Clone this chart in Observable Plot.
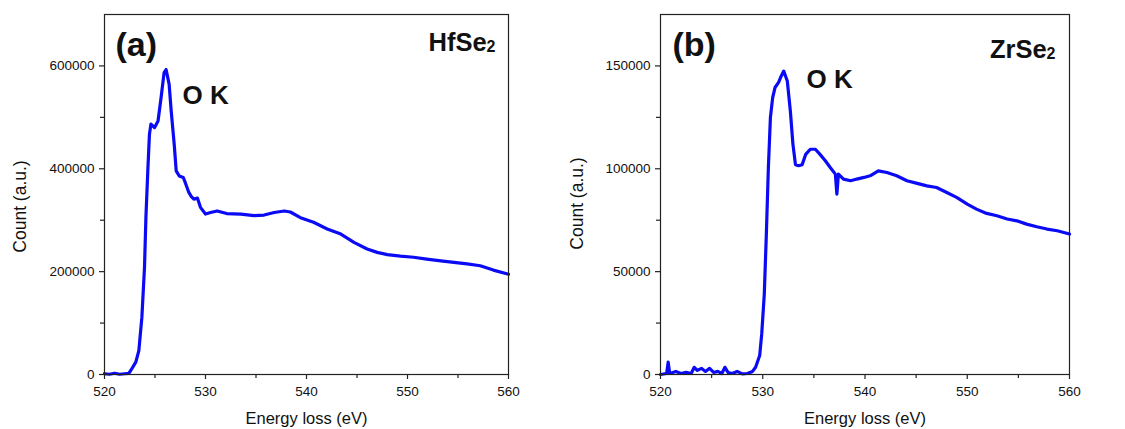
<!DOCTYPE html>
<html>
<head>
<meta charset="utf-8">
<script src="https://cdn.jsdelivr.net/npm/d3@7"></script>
<script src="https://cdn.jsdelivr.net/npm/@observablehq/plot@0.6"></script>
<style>
  html, body { margin: 0; padding: 0; background: white; }
  #wrap { display: flex; width: 1125px; height: 429px; }
</style>
</head>
<body>
<div id="wrap"></div>
<script>
// ---- Panel (a): HfSe2 ----
const energyA = [520, 520.5, 521, 521.5, 522, 522.4, 522.6, 523.1, 523.4, 523.7, 523.96, 524.1, 524.3, 524.45, 524.6, 524.95, 525.3, 525.6, 525.9, 526.1, 526.4, 526.6, 526.9, 527.1, 527.4, 527.8, 528.0, 528.35, 528.6, 528.85, 529.2, 529.5, 530.0, 530.5, 531.15, 532.1, 533.5, 534.8, 535.8, 536.8, 537.8, 538.4, 539.4, 540.7, 542.05, 543.4, 544.7, 546.0, 547.0, 548.0, 549.3, 550.6, 551.9, 553.3, 554.6, 555.9, 557.2, 558.5, 560];
const countA = [1500, 500, 2500, 500, 1500, 2000, 7800, 24000, 46600, 111000, 208000, 305000, 402000, 467000, 487000, 480000, 493000, 538000, 587000, 593000, 564000, 513000, 448000, 396000, 386000, 383000, 373000, 354000, 346000, 341000, 343000, 325000, 312000, 315000, 318000, 313000, 312000, 309000, 310000, 315000, 318000, 316000, 305000, 296000, 283000, 273000, 257000, 244000, 237500, 233000, 230000, 228000, 224500, 221000, 218000, 215000, 211500, 203000, 195000];
const yTicksA = [0, 200000, 400000, 600000];
const yMinorA = [100000, 300000, 500000];

// ---- Panel (b): ZrSe2 ----
const energyB = [520, 520.6, 520.75, 520.9, 521.5, 522, 522.5, 523, 523.3, 523.6, 524, 524.4, 524.8, 525.2, 525.6, 526, 526.3, 526.6, 527, 527.5, 528, 528.5, 529, 529.3, 529.7, 529.9, 530.15, 530.35, 530.55, 530.75, 530.97, 531.2, 531.55, 531.8, 532.05, 532.4, 532.7, 532.95, 533.2, 533.5, 533.85, 534.2, 534.65, 535.15, 535.6, 536.1, 536.6, 537.1, 537.25, 537.4, 537.9, 538.6, 539.2, 539.9, 540.5, 541.3, 542.15, 543.1, 544.1, 545.1, 546.05, 547.0, 548.0, 549.0, 550.0, 550.9, 551.9, 552.9, 553.9, 554.85, 555.8, 556.8, 557.8, 558.8, 560];
const countB = [0, 500, 6000, 500, 1500, 500, 1000, 500, 3500, 2000, 3000, 1500, 3000, 1000, 1500, 500, 3500, 1000, 500, 1500, 300, 500, 1500, 3500, 9200, 19700, 39000, 68000, 100600, 125000, 134600, 139500, 142000, 145000, 147500, 142700, 128000, 112000, 102000, 101500, 102000, 107000, 109500, 109500, 107000, 104000, 100600, 97400, 87700, 97400, 95000, 94200, 95000, 95800, 96600, 99000, 98200, 96600, 94200, 92900, 91700, 90900, 88500, 86000, 82800, 80400, 78300, 77200, 75600, 74700, 73100, 71800, 70700, 69900, 68300];
const yTicksB = [0, 50000, 100000, 150000];
const yMinorB = [25000, 75000, 125000];

const xTicks = [520, 530, 540, 550, 560];
const xMinor = [525, 535, 545, 555];

function panel(opt) {
  const data = opt.energy.map((e, i) => ({e, c: opt.count[i]}));
  const svg = Plot.plot({
    width: opt.width, height: 429,
    marginTop: 14, marginBottom: 55, marginLeft: opt.marginLeft, marginRight: opt.marginRight,
    style: {fontFamily: "'Liberation Sans', Arial, sans-serif", fontSize: "13.5px", color: "#111", background: "white", overflow: "visible"},
    x: {domain: [520, 560]},
    y: {domain: [0, opt.yMax]},
    marks: [
      Plot.line(data, {x: "e", y: "c", stroke: "#0a0af5", strokeWidth: 3.2, strokeLinejoin: "round", curve: "linear"}),
      Plot.frame({stroke: "#222", strokeWidth: 1.2}),
      Plot.axisX({ticks: xTicks, tickSize: 5, tickPadding: 7, tickFormat: "d", label: null, fontSize: 13.5, strokeWidth: 1.2, stroke: "#222"}),
      Plot.axisX({ticks: xMinor, tickSize: 4, tickFormat: () => "", label: null, strokeWidth: 1.2, stroke: "#222"}),
      Plot.axisY({ticks: opt.yTicks, tickSize: 5, tickPadding: 5, tickFormat: d => String(d), label: null, fontSize: 13.5, strokeWidth: 1.2, stroke: "#222"}),
      Plot.axisY({ticks: opt.yMinor, tickSize: 4, tickFormat: () => "", label: null, strokeWidth: 1.2, stroke: "#222"}),
      Plot.text(["Energy loss (eV)"], {frameAnchor: "bottom", dy: 44, textAnchor: "middle", lineAnchor: "middle", fontSize: 16.5, fill: "#111"}),
      Plot.text(["Count (a.u.)"], {frameAnchor: "left", dx: opt.yLabelDx, dy: opt.yLabelDy, textAnchor: "middle", lineAnchor: "middle", rotate: -90, fontSize: 17.5, fill: "#111"}),
      Plot.text([opt.tag], {frameAnchor: "top-left", dx: opt.tagDx, dy: 41, textAnchor: "start", lineAnchor: "bottom", fontSize: 34, fontWeight: "bold", fill: "#111"}),
      Plot.text([opt.compound], {frameAnchor: "top-right", dx: opt.compDx, dy: opt.compDy, textAnchor: "end", lineAnchor: "bottom", fontSize: 25.5, fontWeight: "bold", fill: "#111"}),
      Plot.text(["O K"], {frameAnchor: "top-left", dx: opt.okDx, dy: opt.okDy, textAnchor: "start", lineAnchor: "bottom", fontSize: 26, fontWeight: "bold", fill: "#111"})
    ]
  });
  d3.select(svg).selectAll("text").filter(function() { return this.textContent === opt.compound; })
    .append("tspan").attr("font-size", 16).attr("dy", 1).text("2");
  return svg;
}

const wrap = document.getElementById("wrap");
wrap.appendChild(panel({energy: energyA, count: countA, yMax: 700000, yTicks: yTicksA, yMinor: yMinorA,
  width: 560, marginLeft: 104, marginRight: 52, tag: "(a)", tagDx: 11, compound: "HfSe", compDx: -13, compDy: 36,
  okDx: 78, okDy: 89, yLabelDx: -84, yLabelDy: 12}));
wrap.appendChild(panel({energy: energyB, count: countB, yMax: 175000, yTicks: yTicksB, yMinor: yMinorB,
  width: 565, marginLeft: 100, marginRight: 56, tag: "(b)", tagDx: 12, compound: "ZrSe", compDx: -14, compDy: 43,
  okDx: 146, okDy: 73, yLabelDx: -83, yLabelDy: 9}));
</script>
</body>
</html>
